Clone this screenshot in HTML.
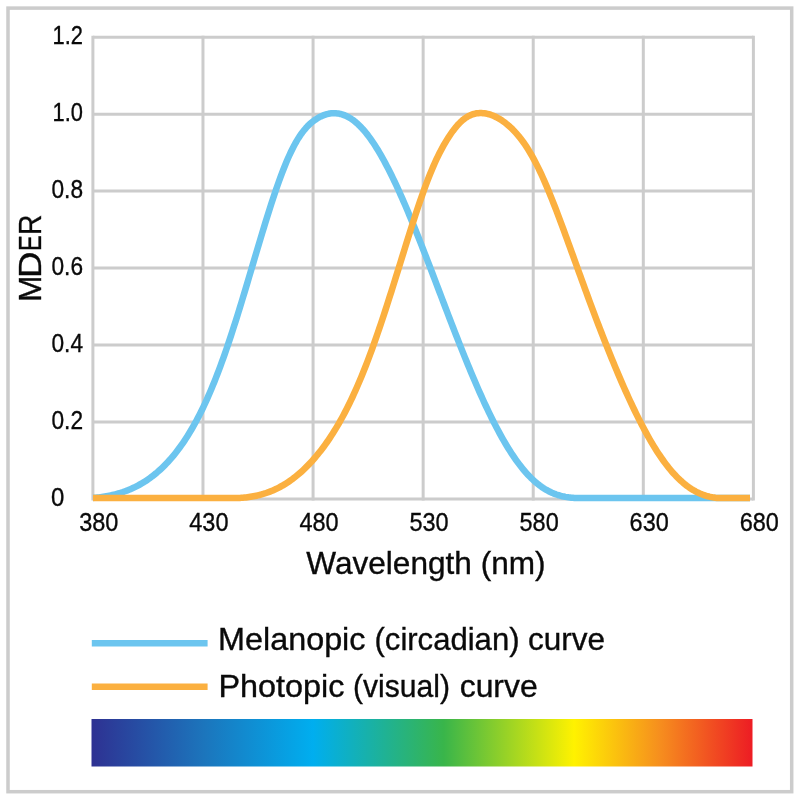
<!DOCTYPE html>
<html lang="en">
<head>
<meta charset="utf-8">
<title>Melanopic and photopic curves</title>
<style>
html,body{margin:0;padding:0;background:#fff;}
body{width:800px;height:800px;overflow:hidden;}
svg{display:block;}
text{font-family:"Liberation Sans",sans-serif;fill:#0a0a0a;stroke:#0a0a0a;stroke-width:0.35px;}
.tick text{font-size:25.5px;}
.big{font-size:30.5px;}
.cap{font-size:31.5px;}
</style>
</head>
<body>
<svg width="800" height="800" viewBox="0 0 800 800">
<defs>
<linearGradient id="spec" x1="0" y1="0" x2="1" y2="0">
<stop offset="0" stop-color="#2e3192"/>
<stop offset="0.17" stop-color="#1c75bc"/>
<stop offset="0.335" stop-color="#00aeef"/>
<stop offset="0.533" stop-color="#39b54a"/>
<stop offset="0.73" stop-color="#fff200"/>
<stop offset="0.86" stop-color="#f68e1e"/>
<stop offset="1" stop-color="#ed1c24"/>
</linearGradient>
<clipPath id="plotclip"><rect x="92.9" y="30" width="657.1" height="480"/></clipPath>
</defs>
<rect x="0" y="0" width="800" height="800" fill="#ffffff"/>
<rect x="8" y="8.1" width="783.7" height="783.6" fill="none" stroke="#cccccc" stroke-width="3.5"/>
<g stroke="#cccccc" stroke-width="3" fill="none"><line x1="92.90" y1="35.75" x2="92.90" y2="500.60"/><line x1="202.98" y1="35.75" x2="202.98" y2="500.60"/><line x1="313.07" y1="35.75" x2="313.07" y2="500.60"/><line x1="423.15" y1="35.75" x2="423.15" y2="500.60"/><line x1="533.23" y1="35.75" x2="533.23" y2="500.60"/><line x1="643.31" y1="35.75" x2="643.31" y2="500.60"/><line x1="753.40" y1="35.75" x2="753.40" y2="500.60"/><line x1="92.90" y1="37.25" x2="753.40" y2="37.25"/><line x1="92.90" y1="114.17" x2="753.40" y2="114.17"/><line x1="92.90" y1="191.10" x2="753.40" y2="191.10"/><line x1="92.90" y1="268.02" x2="753.40" y2="268.02"/><line x1="92.90" y1="344.95" x2="753.40" y2="344.95"/><line x1="92.90" y1="421.88" x2="753.40" y2="421.88"/><line x1="92.90" y1="499.10" x2="753.40" y2="499.10"/></g>
<g clip-path="url(#plotclip)" transform="translate(0,0.25)"><path d="M92.9 497.80L94.4 497.59L95.9 497.45L97.4 497.30L98.9 497.13L100.4 496.95L101.9 496.74L103.4 496.52L104.9 496.28L106.4 496.02L107.9 495.75L109.4 495.45L110.9 495.13L112.4 494.80L113.9 494.44L115.4 494.06L116.9 493.65L118.4 493.23L119.9 492.78L121.4 492.30L122.9 491.81L124.4 491.28L125.9 490.73L127.4 490.16L128.9 489.55L130.4 488.92L131.9 488.26L133.4 487.57L134.9 486.85L136.4 486.10L137.9 485.31L139.4 484.50L140.9 483.65L142.4 482.76L143.9 481.85L145.4 480.89L146.9 479.90L148.4 478.87L149.9 477.81L151.4 476.70L152.9 475.56L154.4 474.37L155.9 473.15L157.4 471.87L158.9 470.56L160.4 469.20L161.9 467.80L163.4 466.35L164.9 464.85L166.4 463.30L167.9 461.70L169.4 460.06L170.9 458.36L172.4 456.60L173.9 454.80L175.4 452.94L176.9 451.02L178.4 449.05L179.9 447.01L181.4 444.92L182.9 442.77L184.4 440.55L185.9 438.28L187.4 435.93L188.9 433.53L190.4 431.05L191.9 428.51L193.4 425.90L194.9 423.22L196.4 420.46L197.9 417.64L199.4 414.74L200.9 411.76L202.4 408.71L203.9 405.58L205.4 402.37L206.9 399.08L208.4 395.70L209.9 392.25L211.4 388.72L212.9 385.10L214.4 381.40L215.9 377.62L217.4 373.76L218.9 369.82L220.4 365.80L221.9 361.71L223.4 357.53L224.9 353.29L226.4 348.97L227.9 344.58L229.4 340.12L230.9 335.60L232.4 331.01L233.9 326.36L235.4 321.66L236.9 316.91L238.4 312.10L239.9 307.25L241.4 302.35L242.9 297.42L244.4 292.46L245.9 287.46L247.4 282.45L248.9 277.41L250.4 272.36L251.9 267.30L253.4 262.24L254.9 257.18L256.4 252.13L257.9 247.09L259.4 242.08L260.9 237.08L262.4 232.12L263.9 227.19L265.4 222.31L266.9 217.47L268.4 212.69L269.9 207.97L271.4 203.31L272.9 198.73L274.4 194.23L275.9 189.81L277.4 185.48L278.9 181.26L280.4 177.13L281.9 173.12L283.4 169.23L284.9 165.47L286.4 161.83L287.9 158.33L289.4 154.97L290.9 151.76L292.4 148.69L293.9 145.77L295.4 143.00L296.9 140.39L298.4 137.92L299.9 135.61L301.4 133.44L302.9 131.42L304.4 129.53L305.9 127.78L307.4 126.15L308.9 124.65L310.4 123.25L311.9 121.96L313.4 120.77L314.9 119.67L316.4 118.67L317.9 117.75L319.4 116.91L320.9 116.16L322.4 115.48L323.9 114.88L325.4 114.37L326.9 113.93L328.4 113.57L329.9 113.29L331.4 113.09L332.9 112.97L334.4 112.94L335.9 113.00L337.4 113.14L338.9 113.36L340.4 113.68L341.9 114.08L343.4 114.57L344.9 115.14L346.4 115.81L347.9 116.57L349.4 117.41L350.9 118.34L352.4 119.37L353.9 120.48L355.4 121.68L356.9 122.96L358.4 124.34L359.9 125.80L361.4 127.35L362.9 128.99L364.4 130.71L365.9 132.51L367.4 134.40L368.9 136.37L370.4 138.42L371.9 140.55L373.4 142.76L374.9 145.04L376.4 147.41L377.9 149.84L379.4 152.35L380.9 154.93L382.4 157.57L383.9 160.29L385.4 163.07L386.9 165.91L388.4 168.81L389.9 171.78L391.4 174.80L392.9 177.88L394.4 181.01L395.9 184.19L397.4 187.43L398.9 190.71L400.4 194.04L401.9 197.42L403.4 200.84L404.9 204.30L406.4 207.80L407.9 211.34L409.4 214.92L410.9 218.53L412.4 222.18L413.9 225.86L415.4 229.56L416.9 233.30L418.4 237.06L419.9 240.84L421.4 244.65L422.9 248.48L424.4 252.32L425.9 256.19L427.4 260.07L428.9 263.96L430.4 267.87L431.9 271.78L433.4 275.71L434.9 279.64L436.4 283.57L437.9 287.52L439.4 291.46L440.9 295.40L442.4 299.34L443.9 303.28L445.4 307.21L446.9 311.13L448.4 315.05L449.9 318.96L451.4 322.85L452.9 326.73L454.4 330.60L455.9 334.45L457.4 338.28L458.9 342.09L460.4 345.88L461.9 349.65L463.4 353.39L464.9 357.11L466.4 360.81L467.9 364.47L469.4 368.10L470.9 371.71L472.4 375.28L473.9 378.81L475.4 382.32L476.9 385.78L478.4 389.21L479.9 392.60L481.4 395.95L482.9 399.26L484.4 402.53L485.9 405.75L487.4 408.93L488.9 412.06L490.4 415.15L491.9 418.19L493.4 421.18L494.9 424.12L496.4 427.01L497.9 429.84L499.4 432.63L500.9 435.36L502.4 438.04L503.9 440.66L505.4 443.22L506.9 445.73L508.4 448.18L509.9 450.57L511.4 452.90L512.9 455.17L514.4 457.38L515.9 459.53L517.4 461.62L518.9 463.64L520.4 465.60L521.9 467.50L523.4 469.33L524.9 471.10L526.4 472.81L527.9 474.45L529.4 476.03L530.9 477.55L532.4 479.00L533.9 480.40L535.4 481.73L536.9 482.99L538.4 484.20L539.9 485.35L541.4 486.43L542.9 487.46L544.4 488.43L545.9 489.34L547.4 490.20L548.9 491.00L550.4 491.75L551.9 492.45L553.4 493.09L554.9 493.69L556.4 494.24L557.9 494.74L559.4 495.19L560.9 495.61L562.4 495.98L563.9 496.31L565.4 496.61L566.9 496.87L568.4 497.10L569.9 497.29L571.4 497.46L572.9 497.60L574.4 497.72L575.9 497.80L750.0 497.80" fill="none" stroke="#6cc5ef" stroke-width="6.55" stroke-linejoin="round"/>
<path d="M92.9 497.80L238.4 497.80L239.9 497.71L241.4 497.60L242.9 497.48L244.4 497.33L245.9 497.17L247.4 496.99L248.9 496.79L250.4 496.56L251.9 496.32L253.4 496.05L254.9 495.76L256.4 495.44L257.9 495.10L259.4 494.74L260.9 494.34L262.4 493.92L263.9 493.48L265.4 493.00L266.9 492.49L268.4 491.96L269.9 491.39L271.4 490.79L272.9 490.16L274.4 489.50L275.9 488.81L277.4 488.08L278.9 487.31L280.4 486.51L281.9 485.68L283.4 484.81L284.9 483.91L286.4 482.96L287.9 481.99L289.4 480.97L290.9 479.91L292.4 478.82L293.9 477.69L295.4 476.52L296.9 475.31L298.4 474.05L299.9 472.76L301.4 471.43L302.9 470.06L304.4 468.64L305.9 467.19L307.4 465.69L308.9 464.14L310.4 462.55L311.9 460.92L313.4 459.25L314.9 457.52L316.4 455.75L317.9 453.94L319.4 452.07L320.9 450.16L322.4 448.19L323.9 446.18L325.4 444.11L326.9 441.99L328.4 439.82L329.9 437.60L331.4 435.32L332.9 432.98L334.4 430.58L335.9 428.13L337.4 425.62L338.9 423.05L340.4 420.41L341.9 417.72L343.4 414.96L344.9 412.13L346.4 409.24L347.9 406.28L349.4 403.25L350.9 400.15L352.4 396.98L353.9 393.73L355.4 390.42L356.9 387.03L358.4 383.57L359.9 380.04L361.4 376.44L362.9 372.77L364.4 369.02L365.9 365.20L367.4 361.32L368.9 357.37L370.4 353.34L371.9 349.26L373.4 345.11L374.9 340.90L376.4 336.62L377.9 332.29L379.4 327.91L380.9 323.47L382.4 318.98L383.9 314.44L385.4 309.86L386.9 305.23L388.4 300.57L389.9 295.87L391.4 291.15L392.9 286.39L394.4 281.61L395.9 276.81L397.4 272.00L398.9 267.18L400.4 262.35L401.9 257.51L403.4 252.69L404.9 247.87L406.4 243.06L407.9 238.28L409.4 233.52L410.9 228.79L412.4 224.10L413.9 219.45L415.4 214.85L416.9 210.30L418.4 205.82L419.9 201.41L421.4 197.07L422.9 192.81L424.4 188.65L425.9 184.58L427.4 180.62L428.9 176.76L430.4 173.02L431.9 169.40L433.4 165.89L434.9 162.50L436.4 159.24L437.9 156.09L439.4 153.06L440.9 150.15L442.4 147.36L443.9 144.67L445.4 142.09L446.9 139.61L448.4 137.22L449.9 134.94L451.4 132.75L452.9 130.66L454.4 128.69L455.9 126.83L457.4 125.08L458.9 123.45L460.4 121.94L461.9 120.56L463.4 119.29L464.9 118.15L466.4 117.12L467.9 116.22L469.4 115.43L470.9 114.75L472.4 114.18L473.9 113.72L475.4 113.35L476.9 113.09L478.4 112.91L479.9 112.82L481.4 112.82L482.9 112.90L484.4 113.06L485.9 113.30L487.4 113.61L488.9 113.99L490.4 114.45L491.9 114.98L493.4 115.58L494.9 116.24L496.4 116.97L497.9 117.77L499.4 118.63L500.9 119.56L502.4 120.55L503.9 121.62L505.4 122.74L506.9 123.94L508.4 125.21L509.9 126.54L511.4 127.95L512.9 129.43L514.4 130.99L515.9 132.62L517.4 134.34L518.9 136.13L520.4 138.01L521.9 139.98L523.4 142.04L524.9 144.19L526.4 146.43L527.9 148.78L529.4 151.22L530.9 153.75L532.4 156.39L533.9 159.12L535.4 161.95L536.9 164.88L538.4 167.90L539.9 171.01L541.4 174.22L542.9 177.51L544.4 180.88L545.9 184.34L547.4 187.87L548.9 191.48L550.4 195.15L551.9 198.89L553.4 202.68L554.9 206.52L556.4 210.41L557.9 214.35L559.4 218.32L560.9 222.33L562.4 226.37L563.9 230.44L565.4 234.53L566.9 238.64L568.4 242.76L569.9 246.90L571.4 251.04L572.9 255.20L574.4 259.35L575.9 263.51L577.4 267.67L578.9 271.82L580.4 275.96L581.9 280.09L583.4 284.22L584.9 288.33L586.4 292.42L587.9 296.50L589.4 300.57L590.9 304.61L592.4 308.63L593.9 312.63L595.4 316.61L596.9 320.56L598.4 324.50L599.9 328.40L601.4 332.28L602.9 336.14L604.4 339.97L605.9 343.77L607.4 347.54L608.9 351.29L610.4 355.00L611.9 358.69L613.4 362.34L614.9 365.97L616.4 369.55L617.9 373.11L619.4 376.63L620.9 380.12L622.4 383.57L623.9 386.98L625.4 390.36L626.9 393.70L628.4 396.99L629.9 400.25L631.4 403.47L632.9 406.64L634.4 409.77L635.9 412.86L637.4 415.90L638.9 418.89L640.4 421.84L641.9 424.74L643.4 427.59L644.9 430.40L646.4 433.15L647.9 435.84L649.4 438.49L650.9 441.08L652.4 443.62L653.9 446.10L655.4 448.52L656.9 450.89L658.4 453.19L659.9 455.44L661.4 457.63L662.9 459.76L664.4 461.83L665.9 463.84L667.4 465.79L668.9 467.67L670.4 469.50L671.9 471.26L673.4 472.96L674.9 474.61L676.4 476.18L677.9 477.70L679.4 479.16L680.9 480.56L682.4 481.89L683.9 483.17L685.4 484.39L686.9 485.55L688.4 486.65L689.9 487.69L691.4 488.67L692.9 489.60L694.4 490.48L695.9 491.30L697.4 492.06L698.9 492.78L700.4 493.44L701.9 494.05L703.4 494.61L704.9 495.13L706.4 495.60L707.9 496.03L709.4 496.41L710.9 496.75L712.4 497.05L713.9 497.31L715.4 497.54L716.9 497.73L718.4 497.80L750.0 497.80" fill="none" stroke="#fbb040" stroke-width="6.55" stroke-linejoin="round"/></g>
<g class="tick"><text x="52.6" y="44.0" textLength="30.4" lengthAdjust="spacingAndGlyphs">1.2</text><text x="52.6" y="121.0" textLength="30.4" lengthAdjust="spacingAndGlyphs">1.0</text><text x="51.5" y="197.9" textLength="31.5" lengthAdjust="spacingAndGlyphs">0.8</text><text x="51.5" y="274.8" textLength="31.5" lengthAdjust="spacingAndGlyphs">0.6</text><text x="51.5" y="351.8" textLength="31.5" lengthAdjust="spacingAndGlyphs">0.4</text><text x="51.5" y="428.7" textLength="31.5" lengthAdjust="spacingAndGlyphs">0.2</text><text x="51.1" y="505.9" textLength="13.3" lengthAdjust="spacingAndGlyphs">0</text><text x="98.8" y="530.9" text-anchor="middle" textLength="39.2" lengthAdjust="spacingAndGlyphs">380</text><text x="208.9" y="530.9" text-anchor="middle" textLength="39.2" lengthAdjust="spacingAndGlyphs">430</text><text x="319.0" y="530.9" text-anchor="middle" textLength="39.2" lengthAdjust="spacingAndGlyphs">480</text><text x="429.0" y="530.9" text-anchor="middle" textLength="39.2" lengthAdjust="spacingAndGlyphs">530</text><text x="539.1" y="530.9" text-anchor="middle" textLength="39.2" lengthAdjust="spacingAndGlyphs">580</text><text x="649.2" y="530.9" text-anchor="middle" textLength="39.2" lengthAdjust="spacingAndGlyphs">630</text><text x="759.3" y="530.9" text-anchor="middle" textLength="39.2" lengthAdjust="spacingAndGlyphs">680</text></g>
<text class="cap" aria-label="MDER" transform="translate(41,302.2) rotate(-90)"><tspan x="0.20" textLength="26.42" lengthAdjust="spacingAndGlyphs">M</tspan><tspan x="24.20" textLength="26.43" lengthAdjust="spacingAndGlyphs">D</tspan><tspan x="51.20" textLength="15.64" lengthAdjust="spacingAndGlyphs">E</tspan><tspan x="67.20" textLength="20.43" lengthAdjust="spacingAndGlyphs">R</tspan></text>
<text class="big" x="306.3" y="574" textLength="239.3" lengthAdjust="spacingAndGlyphs">Wavelength (nm)</text>
<line x1="91.8" y1="643.3" x2="207.6" y2="643.3" stroke="#6cc5ef" stroke-width="6.55"/>
<line x1="91.8" y1="686.65" x2="207.6" y2="686.65" stroke="#fbb040" stroke-width="6.55"/>
<text class="big" y="650.3"><tspan x="218.00" textLength="147.50" lengthAdjust="spacingAndGlyphs">Melanopic</tspan> <tspan x="374.50" textLength="145.00" lengthAdjust="spacingAndGlyphs">(circadian)</tspan> <tspan x="528.00" textLength="77.00" lengthAdjust="spacingAndGlyphs">curve</tspan></text>
<text class="big" y="697.3"><tspan x="218.40" textLength="126.00" lengthAdjust="spacingAndGlyphs">Photopic</tspan> <tspan x="353.00" textLength="97.00" lengthAdjust="spacingAndGlyphs">(visual)</tspan> <tspan x="459.70" textLength="78.00" lengthAdjust="spacingAndGlyphs">curve</tspan></text>
<rect x="91.5" y="719" width="661" height="47.5" fill="url(#spec)"/>
</svg>
</body>
</html>
